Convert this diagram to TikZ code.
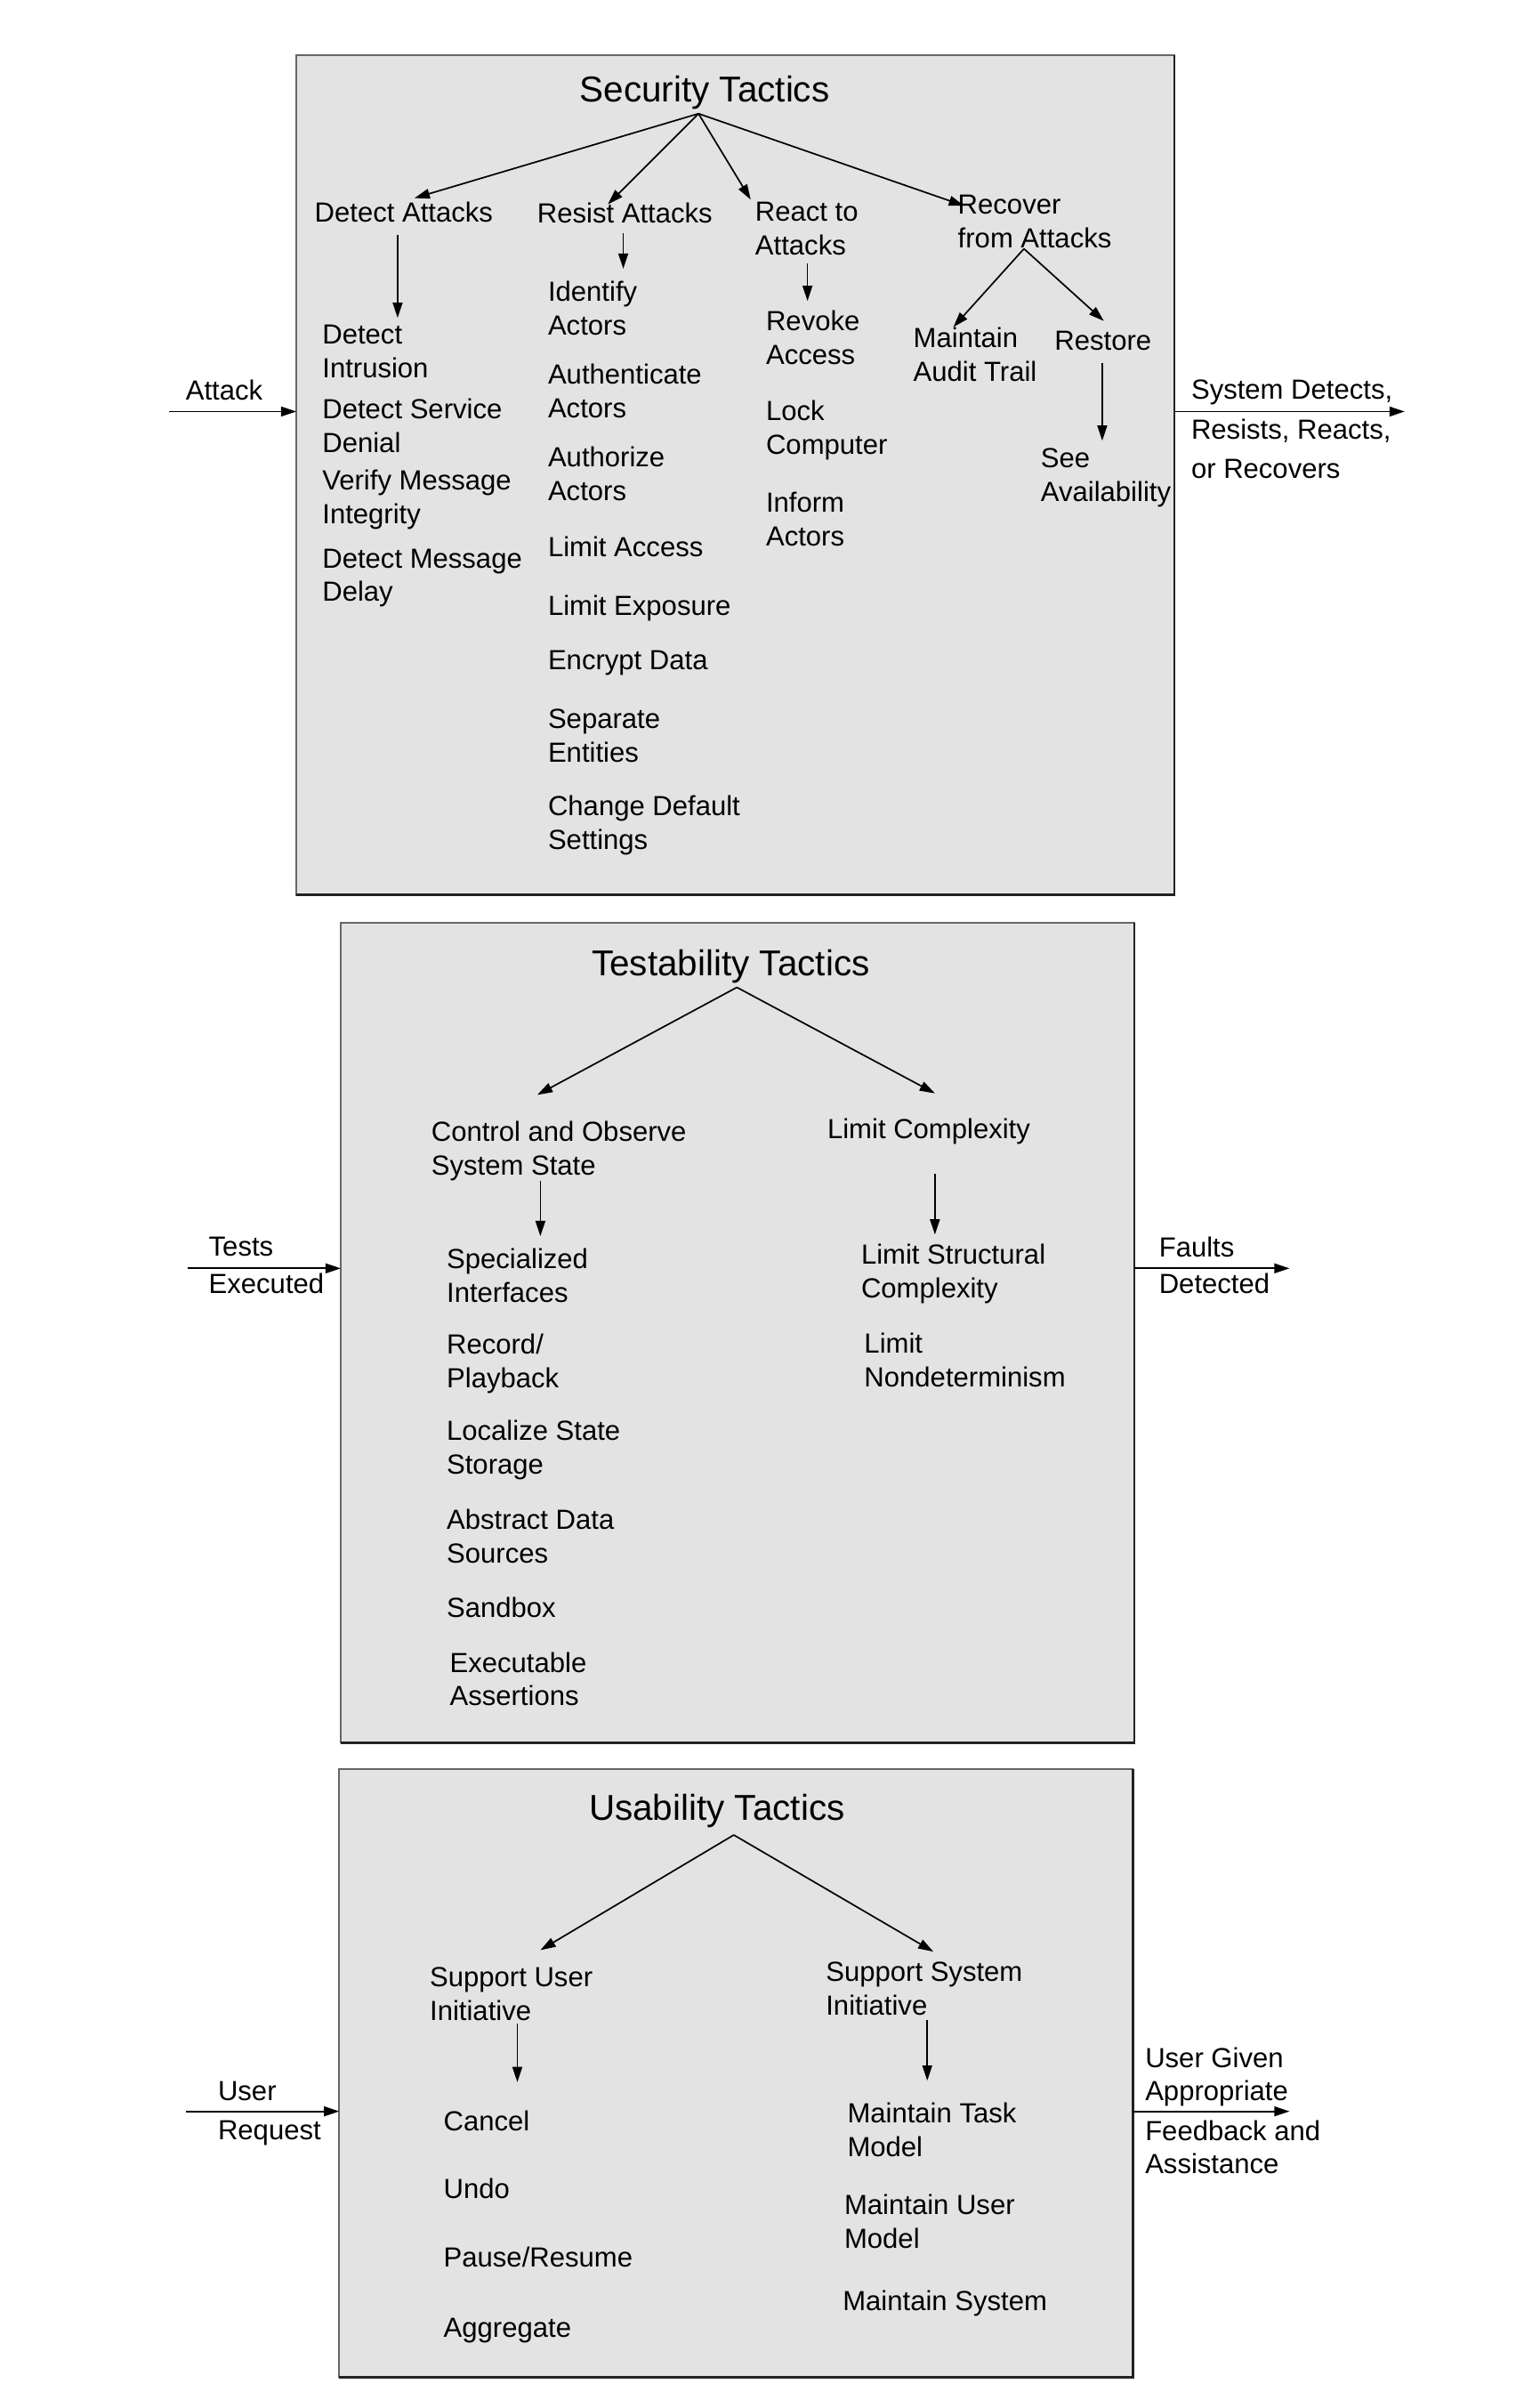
\documentclass[tikz,border=0pt]{standalone}
\usepackage{fontspec}
\setmainfont{Liberation Sans}
\usetikzlibrary{arrows.meta}
\definecolor{panelfill}{HTML}{E3E3E3}
\definecolor{panelline}{HTML}{666666}
\definecolor{paneldark}{HTML}{222222}
\begin{document}
\begin{tikzpicture}[x=0.50375pt,y=-0.50375pt,
  lbl/.style={anchor=west,inner sep=0pt,outer sep=0pt,align=left,font=\fontsize{9.07}{11.08}\selectfont},
  ttl/.style={inner sep=0pt,outer sep=0pt,font=\fontsize{11.8}{13}\selectfont},
  panel/.style={draw=panelline,fill=panelfill,line width=0.5pt,anchor=north west,inner sep=0pt,outer sep=0pt},
  shade/.style={draw=paneldark,line width=0.8pt},
  arr/.style={-{Triangle[length=5pt,width=3.2pt]},line width=0.5pt},
]
\useasboundingbox (0,0) rectangle (992.56,1568.2);

% ================= Security =================
\node[panel,minimum width=288.1pt,minimum height=275.5pt] (sec) at (193,36) {};
\draw[shade] (sec.north east) -- (sec.south east) -- (sec.south west);
\node[ttl] (secT) at (459,60.4) {Security Tactics};
\coordinate (secA) at (455,74);
\node[lbl] (detA) at (205,138) {Detect Attacks};
\node[lbl] (resA) at (350,139) {Resist Attacks};
\node[lbl] (reaA) at (492,149) {React to\\Attacks};
\node[lbl] (recA) at (624,144) {Recover\\from Attacks};
\coordinate (tDet) at (270,129);
\coordinate (tRes) at (396,133);
\coordinate (tRea) at (489,130);
\coordinate (tRec) at (628,134);
\draw[arr] (secA) -- (tDet);
\draw[arr] (secA) -- (tRes);
\draw[arr] (secA) -- (tRea);
\draw[arr] (secA) -- (tRec);

\coordinate (detIn) at (259,207);
\coordinate (resIn) at (406,175);
\coordinate (reaIn) at (526,196);
\draw[arr,shorten <=4.2pt] (detA.south -| detIn) -- (detIn);
\draw[arr,shorten <=3.2pt] (resA.south -| resIn) -- (resIn);
\draw[arr,shorten <=2.7pt] (reaA.south -| reaIn) -- (reaIn);

\coordinate (recF) at (667,162);
\coordinate (tMat) at (621,213);
\coordinate (tRst) at (719,209);
\draw[arr] (recF) -- (tMat);
\draw[arr] (recF) -- (tRst);

\node[lbl] (di)  at (210,229)   {Detect\\Intrusion};
\node[lbl] (dsd) at (210,277.5) {Detect Service\\Denial};
\node[lbl] (vmi) at (210,325.4) {Verify Message\\Integrity};
\node[lbl] (dmd) at (210,376.4) {Detect Message\\Delay};

\node[lbl] (ia)  at (357,201)   {Identify\\Actors};
\node[lbl] (aa)  at (357,254.5) {Authenticate\\Actors};
\node[lbl] (aua) at (357,308.5) {Authorize\\Actors};
\node[lbl] (la)  at (357,356)   {Limit Access};
\node[lbl] (le)  at (357,395.9) {Limit Exposure};
\node[lbl] (ed)  at (357,431.9) {Encrypt Data};
\node[lbl] (se)  at (357,479)   {Separate\\Entities};
\node[lbl] (cds) at (357,537.4) {Change Default\\Settings};

\node[lbl] (rva) at (499,220)   {Revoke\\Access};
\node[lbl] (lcm) at (499,279.9) {Lock\\Computer};
\node[lbl] (ina) at (499,338)   {Inform\\Actors};

\node[lbl] (mat) at (595,231)   {Maintain\\Audit Trail};
\node[lbl] (rst) at (687,222)   {Restore};
\node[lbl] (sav) at (678,311.4) {See\\Availability};
\coordinate (savIn) at (718,287);
\draw[arr,shorten <=4.2pt] (rst.south -| savIn) -- (savIn);

\node[lbl] (att) at (121,254) {Attack};
\coordinate (attS) at (110,268);
\draw[arr] (attS) -- (attS -| sec.west);
\node[lbl,font=\fontsize{9.07}{12.85}\selectfont] (secOut) at (776,279.5) {System Detects,\\Resists, Reacts,\\or Recovers};
\coordinate (secE) at (915,268);
\draw[arr] (secE -| sec.east) -- (secE);

% ================= Testability =================
\node[panel,minimum width=260.4pt,minimum height=269pt] (tst) at (222,601) {};
\draw[shade] (tst.north east) -- (tst.south east) -- (tst.south west);
\node[ttl] (tstT) at (476,629.4) {Testability Tactics};
\coordinate (tstA) at (480,643);
\coordinate (tCos) at (350,713);
\coordinate (tLc) at (609,712);
\draw[arr] (tstA) -- (tCos);
\draw[arr] (tstA) -- (tLc);
\node[lbl] (cos) at (281,749.4) {Control and Observe\\System State};
\node[lbl] (lc)  at (539,736.9) {Limit Complexity};
\coordinate (cosIn) at (352,805);
\coordinate (lcIn) at (609,804);
\draw[arr] (cos.south -| cosIn) -- (cosIn);
\draw[arr,shorten <=9.7pt] (lc.south -| lcIn) -- (lcIn);

\node[lbl] (spi) at (291,830.5)  {Specialized\\Interfaces};
\node[lbl] (rp)  at (291,887.9)  {Record/\\Playback};
\node[lbl] (lss) at (291,944.4)  {Localize State\\Storage};
\node[lbl] (ads) at (291,1000.5) {Abstract Data\\Sources};
\node[lbl] (sb)  at (291,1047)   {Sandbox};
\node[lbl] (ea)  at (293,1093.5) {Executable\\Assertions};

\node[lbl] (lsc) at (561,829.4) {Limit Structural\\Complexity};
\node[lbl] (lnd) at (563,885.5) {Limit\\Nondeterminism};

\node[lbl,font=\fontsize{9.07}{12.09}\selectfont] (tin) at (136,824) {Tests\\Executed};
\coordinate (tinS) at (122,826);
\draw[arr] (tinS) -- (tinS -| tst.west);
\node[lbl,font=\fontsize{9.07}{12.09}\selectfont] (tout) at (755,824) {Faults\\Detected};
\coordinate (toutE) at (840,826);
\draw[arr] (toutE -| tst.east) -- (toutE);

% ================= Usability =================
\node[panel,minimum width=260.4pt,minimum height=199.5pt] (usa) at (221,1152) {};
\draw[shade] (usa.north east) -- (usa.south east) -- (usa.south west);
\node[ttl] (usaT) at (467,1179.4) {Usability Tactics};
\coordinate (usaA) at (478,1195);
\coordinate (tSui) at (352,1270);
\coordinate (tSsi) at (608,1271);
\draw[arr] (usaA) -- (tSui);
\draw[arr] (usaA) -- (tSsi);
\node[lbl] (sui) at (280,1298.5) {Support User\\Initiative};
\node[lbl] (ssi) at (538,1295)   {Support System\\Initiative};
\coordinate (suiIn) at (337,1356);
\coordinate (ssiIn) at (604,1355);
\draw[arr,shorten <=1pt] (sui.south -| suiIn) -- (suiIn);
\draw[arr,shorten <=1.7pt] (ssi.south -| ssiIn) -- (ssiIn);

\node[lbl] (can) at (289,1381)   {Cancel};
\node[lbl] (und) at (289,1425)   {Undo};
\node[lbl] (pau) at (289,1470)   {Pause/Resume};
\node[lbl] (agg) at (289,1517.9) {Aggregate};

\node[lbl] (mtm) at (552,1387)   {Maintain Task\\Model};
\node[lbl] (mum) at (550,1446.5) {Maintain User\\Model};
\node[lbl] (msy) at (549,1499.9) {Maintain System};

\node[lbl,font=\fontsize{9.07}{12.6}\selectfont] (uin) at (142,1376.4) {User\\Request};
\coordinate (uinS) at (121,1375);
\draw[arr] (uinS) -- (uinS -| usa.west);
\node[lbl,font=\fontsize{9.07}{10.83}\selectfont] (uout) at (746,1374.5) {User Given\\Appropriate\\[2.27pt]Feedback and\\Assistance};
\coordinate (uoutE) at (840,1375);
\draw[arr] (uoutE -| usa.east) -- (uoutE);
\end{tikzpicture}
\end{document}
